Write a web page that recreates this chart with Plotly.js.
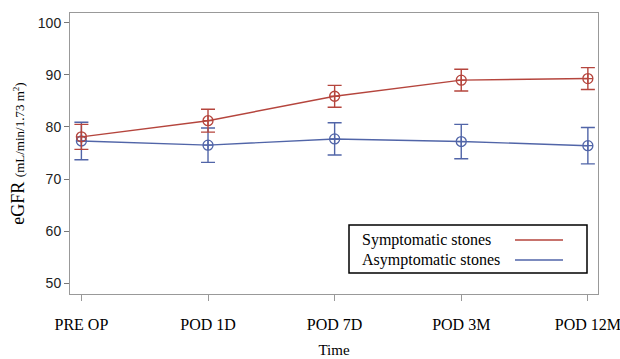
<!DOCTYPE html>
<html>
<head>
<meta charset="utf-8">
<script src="https://cdn.plot.ly/plotly-3.0.1.min.js"></script>
<style>html,body{margin:0;padding:0;background:#fff;}#chart{width:620px;height:359px;}</style>
</head>
<body>
<div id="chart"></div>
<script>
var categories = ["PRE OP", "POD 1D", "POD 7D", "POD 3M", "POD 12M"];
var seriesNames = ["Symptomatic stones", "Asymptomatic stones"];
var symptomatic = [78.1, 81.2, 85.9, 89.0, 89.3];
var symptomaticErr = [2.4, 2.2, 2.1, 2.1, 2.1];
var asymptomatic = [77.3, 76.5, 77.7, 77.2, 76.4];
var asymptomaticErr = [3.6, 3.3, 3.1, 3.3, 3.5];
var yTicks = [50, 60, 70, 80, 90, 100];

var red = "#B5453D", blue = "#5165A8";
function tr(y, e, name, c) {
  return {
    x: categories, y: y, name: name, type: "scatter", mode: "lines+markers",
    line: {color: c, width: 1.4},
    marker: {symbol: "circle-cross-open", size: 10, color: c, line: {width: 1.3, color: c}},
    error_y: {type: "data", array: e, visible: true, color: c, thickness: 1.4, width: 7},
    showlegend: false
  };
}
var data = [tr(asymptomatic, asymptomaticErr, seriesNames[1], blue),
            tr(symptomatic, symptomaticErr, seriesNames[0], red)];

var serif = "Liberation Serif, Times New Roman, serif";
// manual legend (text left, line sample right)
var lx0 = (349 - 70) / 528, lx1 = (587 - 70) / 528;
var ly0 = (294 - 273) / 281, ly1 = (294 - 225) / 281;
var rows = [(294 - 240) / 281, (294 - 260) / 281];
var colors = [red, blue];
var shapes = [{type: "rect", xref: "paper", yref: "paper", x0: lx0, x1: lx1, y0: ly0, y1: ly1,
  line: {color: "#000", width: 1.5}, fillcolor: "rgba(255,255,255,0)"}];
var annotations = [];
seriesNames.forEach(function (n, i) {
  shapes.push({type: "line", xref: "paper", yref: "paper",
    x0: (515 - 70) / 528, x1: (563 - 70) / 528, y0: rows[i], y1: rows[i],
    line: {color: colors[i], width: 1.4}});
  annotations.push({xref: "paper", yref: "paper", x: (360 - 70) / 528, y: rows[i],
    xanchor: "left", yanchor: "middle", showarrow: false, text: n,
    font: {family: serif, size: 16, color: "#000"}});
});

var layout = {
  width: 620, height: 359,
  margin: {l: 70, r: 22, t: 13, b: 65},
  paper_bgcolor: "#fff", plot_bgcolor: "#fff",
  showlegend: false,
  xaxis: {
    type: "category", range: [-0.09, 4.08],
    showgrid: false, zeroline: false,
    showline: true, linecolor: "#999", linewidth: 1, mirror: true,
    ticks: "outside", ticklen: 6, tickcolor: "#999", tickwidth: 1,
    ticklabelstandoff: 10,
    tickfont: {family: serif, size: 16, color: "#000"},
    title: {text: "Time", standoff: 12, font: {family: serif, size: 15, color: "#000"}}
  },
  yaxis: {
    range: [47.9, 101.9], tickvals: yTicks,
    showgrid: false, zeroline: false,
    showline: true, linecolor: "#999", linewidth: 1, mirror: true,
    ticks: "outside", ticklen: 5, tickcolor: "#777", tickwidth: 1,
    tickfont: {family: "Liberation Sans, Arial, sans-serif", size: 14, color: "#222"},
    title: {text: "eGFR <span style='font-size:13px'>(mL/min/1.73 m<sup>2</sup>)</span>", standoff: 8,
      font: {family: serif, size: 18, color: "#000"}}
  },
  shapes: shapes,
  annotations: annotations
};
Plotly.newPlot("chart", data, layout, {staticPlot: true, displayModeBar: false});
</script>
</body>
</html>
